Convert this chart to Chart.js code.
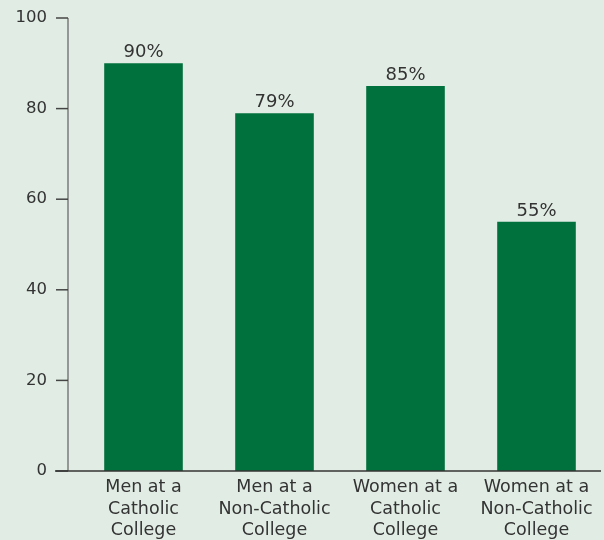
<!DOCTYPE html>
<html>
<head>
<meta charset="utf-8">
<script src="https://cdn.jsdelivr.net/npm/chart.js@4"></script>
<style>
  html, body { margin: 0; padding: 0; background: #e1ede4; }
  #wrap { width: 604px; height: 540px; }
</style>
</head>
<body>
<div id="wrap"><canvas id="chart" width="604" height="540"></canvas></div>
<script>
const categories = [
  ["Men at a", "Catholic", "College"],
  ["Men at a", "Non-Catholic", "College"],
  ["Women at a", "Catholic", "College"],
  ["Women at a", "Non-Catholic", "College"]
];
const values = [90, 79, 85, 55];
const yTicks = [0, 20, 40, 60, 80, 100];

const FONT = "'DejaVu Sans', sans-serif";

// axes drawn by hand so the y line can sit a bit left of the first bar slot
const axisPlugin = {
  id: "axisLines",
  afterDraw(chart) {
    const c = chart.ctx;
    const y = chart.scales.y;
    const area = chart.chartArea;
    const axX = area.left - 10;
    c.save();
    c.strokeStyle = "#7a7a7a";
    c.lineWidth = 1.5;
    c.beginPath();
    c.moveTo(axX, y.getPixelForValue(100));
    c.lineTo(axX, y.getPixelForValue(0));
    c.stroke();
    c.strokeStyle = "#444";
    yTicks.forEach(v => {
      const py = y.getPixelForValue(v);
      c.beginPath();
      c.moveTo(axX - 12, py);
      c.lineTo(axX, py);
      c.stroke();
    });
    c.strokeStyle = "#333";
    c.beginPath();
    c.moveTo(axX - 13, y.getPixelForValue(0));
    c.lineTo(area.right - 1, y.getPixelForValue(0));
    c.stroke();
    c.restore();
  }
};

const valueLabels = {
  id: "valueLabels",
  afterDatasetsDraw(chart) {
    const c = chart.ctx;
    const meta = chart.getDatasetMeta(0);
    c.save();
    c.fillStyle = "#333";
    c.font = "18px " + FONT;
    c.textAlign = "center";
    c.textBaseline = "alphabetic";
    meta.data.forEach((bar, i) => {
      c.fillText(values[i] + "%", bar.x, bar.y - 6);
    });
    c.restore();
  }
};

new Chart(document.getElementById("chart"), {
  type: "bar",
  data: {
    labels: categories,
    datasets: [{
      data: values,
      backgroundColor: "#00703c",
      categoryPercentage: 1,
      barPercentage: 0.6
    }]
  },
  options: {
    responsive: false,
    animation: false,
    layout: { padding: { top: 18, right: 2, left: 0, bottom: 0 } },
    plugins: { legend: { display: false }, tooltip: { enabled: false } },
    scales: {
      x: {
        grid: { display: false, drawTicks: false },
        border: { display: false },
        ticks: {
          color: "#333",
          font: { family: FONT, size: 17.5, lineHeight: "21.5px" },
          padding: 6,
          maxRotation: 0,
          autoSkip: false
        },
        afterFit(s) { s.height = 69; s.paddingLeft = 0; s.paddingRight = 0; }
      },
      y: {
        min: 0,
        max: 100,
        grid: { display: false, drawTicks: false },
        border: { display: false },
        afterBuildTicks(s) { s.ticks = yTicks.map(v => ({ value: v })); },
        ticks: {
          color: "#333",
          font: { family: FONT, size: 16.5 },
          padding: 31
        },
        afterFit(s) { s.width = 78; s.paddingTop = 0; s.paddingBottom = 0; }
      }
    }
  },
  plugins: [axisPlugin, valueLabels]
});
</script>
</body>
</html>
